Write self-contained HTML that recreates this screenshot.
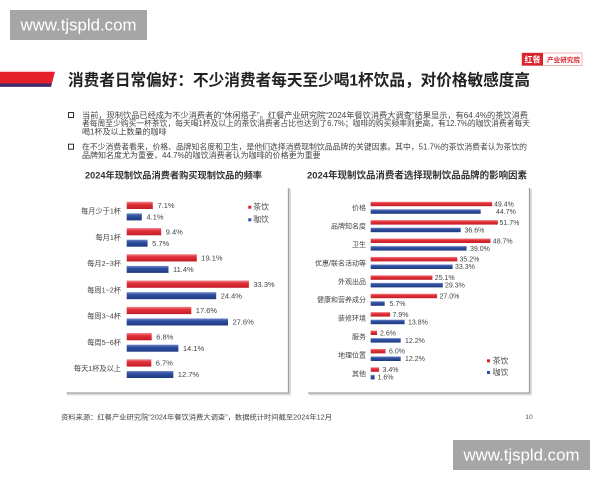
<!DOCTYPE html>
<html><head><meta charset="utf-8"><style>
html,body{margin:0;padding:0;background:#fff;}
svg{display:block;}
text{font-family:"Liberation Sans","Noto Sans CJK SC",sans-serif;}
</style></head><body>
<svg width="600" height="480" viewBox="0 0 600 480" xmlns="http://www.w3.org/2000/svg">
<defs>
<linearGradient id="rg" x1="0" y1="0" x2="0" y2="1">
<stop offset="0" stop-color="#f28a90"/><stop offset="0.35" stop-color="#e2323b"/><stop offset="1" stop-color="#c41d26"/>
</linearGradient>
<linearGradient id="bg" x1="0" y1="0" x2="0" y2="1">
<stop offset="0" stop-color="#7088c8"/><stop offset="0.35" stop-color="#2f4f9f"/><stop offset="1" stop-color="#1f3a82"/>
</linearGradient>
</defs>
<rect width="600" height="480" fill="#fff"/>

<!-- watermark boxes -->
<rect x="10" y="10" width="137" height="30" fill="#a6a6a6"/>
<text x="20.5" y="30.5" font-size="16.7" fill="#fff" textLength="116" lengthAdjust="spacingAndGlyphs">www.tjspld.com</text>
<rect x="453" y="440" width="137" height="30" fill="#a6a6a6"/>
<text x="463.5" y="460.5" font-size="16.7" fill="#fff" textLength="116" lengthAdjust="spacingAndGlyphs">www.tjspld.com</text>

<!-- logo -->
<rect x="522" y="53" width="60" height="12.5" fill="#fff" stroke="#f0a0a4" stroke-width="0.8"/>
<rect x="522" y="53" width="21" height="12.5" fill="#d9232d"/>
<text x="532.5" y="62.5" font-size="8" font-weight="bold" fill="#fff" text-anchor="middle">红餐</text>
<text x="547" y="62" font-size="6.3" fill="#d9232d" font-weight="bold" textLength="33" lengthAdjust="spacingAndGlyphs">产业研究院</text>

<!-- red stripe -->
<polygon points="0,71.7 55,71.7 51,86.7 0,86.7" fill="#e3202b"/>
<polygon points="0,83.5 51.9,83.5 51,86.7 0,86.7" fill="#3b2d72"/>

<!-- title -->
<text x="68" y="85.5" font-size="16" font-weight="bold" fill="#222" textLength="462" lengthAdjust="spacingAndGlyphs">消费者日常偏好：不少消费者每天至少喝1杯饮品，对价格敏感度高</text>

<!-- bullets -->
<rect x="68.5" y="112.5" width="5" height="5" fill="none" stroke="#333" stroke-width="1"/>
<text x="82" y="117.8" font-size="8" fill="#444" textLength="446" lengthAdjust="spacingAndGlyphs">当前，现制饮品已经成为不少消费者的“休闲搭子”。红餐产业研究院“2024年餐饮消费大调查”结果显示，有64.4%的茶饮消费</text>
<text x="82" y="126.2" font-size="8" fill="#444" textLength="448" lengthAdjust="spacingAndGlyphs">者每周至少购买一杯茶饮，每天喝1杯及以上的茶饮消费者占比也达到了6.7%；咖啡的购买频率则更高，有12.7%的咖饮消费者每天</text>
<text x="82" y="134.5" font-size="8" fill="#444">喝1杯及以上数量的咖啡</text>
<rect x="68.5" y="144.2" width="5" height="5" fill="none" stroke="#333" stroke-width="1"/>
<text x="82" y="149.5" font-size="8" fill="#444" textLength="445" lengthAdjust="spacingAndGlyphs">在不少消费者看来，价格、品牌知名度和卫生，是他们选择消费现制饮品品牌的关键因素。其中，51.7%的茶饮消费者认为茶饮的</text>
<text x="82" y="157.8" font-size="8" fill="#444">品牌知名度尤为重要，44.7%的咖饮消费者认为咖啡的价格更为重要</text>

<!-- chart frames -->
<g stroke="#dcdcdc" stroke-width="2" fill="none">
<polyline points="67,394.5 290,394.5 290,189"/>
<polyline points="309,394.5 531,394.5 531,189"/>
</g>
<g stroke="#a2a2a2" stroke-width="1.3" fill="none">
<polyline points="66.7,393 288.5,393 288.5,188"/>
<polyline points="308,393 529.5,393 529.5,188"/>
</g>

<!-- left chart -->
<text x="85" y="178.5" font-size="9.3" font-weight="bold" fill="#333" textLength="177" lengthAdjust="spacingAndGlyphs">2024年现制饮品消费者购买现制饮品的频率</text>
<g font-size="7.2" fill="#444" text-anchor="end">
<text x="121" y="213.5">每月少于1杯</text>
<text x="121" y="239.8">每月1杯</text>
<text x="121" y="266">每月2~3杯</text>
<text x="121" y="292.3">每周1~2杯</text>
<text x="121" y="318.6">每周3~4杯</text>
<text x="121" y="344.9">每周5~6杯</text>
<text x="121" y="371.1">每天1杯及以上</text>
</g>
<g fill="url(#rg)">
<rect x="126.7" y="201.7" width="26.1" height="7.3"/>
<rect x="126.7" y="228" width="34.5" height="7.3"/>
<rect x="126.7" y="254.2" width="70.1" height="7.3"/>
<rect x="126.7" y="280.5" width="122.2" height="7.3"/>
<rect x="126.7" y="306.8" width="64.6" height="7.3"/>
<rect x="126.7" y="333" width="25" height="7.3"/>
<rect x="126.7" y="359.3" width="24.6" height="7.3"/>
</g>
<g fill="url(#bg)">
<rect x="126.7" y="213.4" width="15.1" height="7"/>
<rect x="126.7" y="239.7" width="20.9" height="7"/>
<rect x="126.7" y="265.9" width="41.8" height="7"/>
<rect x="126.7" y="292.2" width="89.5" height="7"/>
<rect x="126.7" y="318.5" width="101.3" height="7"/>
<rect x="126.7" y="344.7" width="51.7" height="7"/>
<rect x="126.7" y="371" width="46.6" height="7"/>
</g>
<g font-size="7.5" fill="#444">
<text x="157.5" y="208">7.1%</text><text x="146.5" y="219.6">4.1%</text>
<text x="165.7" y="234.3">9.4%</text><text x="152.1" y="245.9">5.7%</text>
<text x="201.3" y="260.5">19.1%</text><text x="173" y="272.2">11.4%</text>
<text x="253.4" y="286.8">33.3%</text><text x="220.7" y="298.4">24.4%</text>
<text x="195.8" y="313.1">17.6%</text><text x="232.5" y="324.7">27.6%</text>
<text x="156.2" y="339.4">6.8%</text><text x="182.9" y="351">14.1%</text>
<text x="155.8" y="365.6">6.7%</text><text x="177.8" y="377.2">12.7%</text>
</g>
<rect x="248.3" y="205.7" width="3" height="3" fill="#d9232d"/>
<text x="253.3" y="209.5" font-size="7.8" fill="#444">茶饮</text>
<rect x="248.3" y="218.3" width="3" height="3" fill="#2f4f9f"/>
<text x="253.3" y="222.1" font-size="7.8" fill="#444">咖饮</text>

<!-- right chart -->
<text x="307" y="178.5" font-size="9.6" font-weight="bold" fill="#333" textLength="220" lengthAdjust="spacingAndGlyphs">2024年现制饮品消费者选择现制饮品品牌的影响因素</text>
<g font-size="7" fill="#444" text-anchor="end">
<text x="366" y="210.2">价格</text>
<text x="366" y="228.6">品牌知名度</text>
<text x="366" y="247">卫生</text>
<text x="366" y="265.4">优惠/联名活动等</text>
<text x="366" y="283.8">外观出品</text>
<text x="366" y="302.2">健康和营养成分</text>
<text x="366" y="320.6">装修环境</text>
<text x="366" y="339">服务</text>
<text x="366" y="357.4">地理位置</text>
<text x="366" y="375.8">其他</text>
</g>
<g fill="url(#rg)">
<rect x="370.7" y="201.7" width="121.5" height="4.5"/>
<rect x="370.7" y="220.1" width="127.2" height="4.5"/>
<rect x="370.7" y="238.5" width="119.8" height="4.5"/>
<rect x="370.7" y="256.9" width="86.6" height="4.5"/>
<rect x="370.7" y="275.3" width="61.7" height="4.5"/>
<rect x="370.7" y="293.7" width="66.4" height="4.5"/>
<rect x="370.7" y="312.1" width="19.4" height="4.5"/>
<rect x="370.7" y="330.5" width="6.4" height="4.5"/>
<rect x="370.7" y="348.9" width="14.8" height="4.5"/>
<rect x="370.7" y="367.3" width="8.4" height="4.5"/>
</g>
<g fill="url(#bg)">
<rect x="370.7" y="209.3" width="110" height="4.5"/>
<rect x="370.7" y="227.7" width="90" height="4.5"/>
<rect x="370.7" y="246.1" width="95.9" height="4.5"/>
<rect x="370.7" y="264.5" width="81.9" height="4.5"/>
<rect x="370.7" y="282.9" width="72.1" height="4.5"/>
<rect x="370.7" y="301.3" width="14" height="4.5"/>
<rect x="370.7" y="319.7" width="33.9" height="4.5"/>
<rect x="370.7" y="338.1" width="30" height="4.5"/>
<rect x="370.7" y="356.5" width="30" height="4.5"/>
<rect x="370.7" y="374.9" width="3.9" height="4.5"/>
</g>
<g font-size="7" fill="#444">
<text x="494" y="206.5">49.4%</text><text x="496" y="214">44.7%</text>
<text x="499.5" y="224.9">51.7%</text><text x="464.5" y="232.4">36.6%</text>
<text x="492.8" y="243.3">48.7%</text><text x="470" y="250.8">39.0%</text>
<text x="459.5" y="261.7">35.2%</text><text x="455" y="269.2">33.3%</text>
<text x="434.8" y="280.1">25.1%</text><text x="445" y="287.6">29.3%</text>
<text x="439.5" y="298.5">27.0%</text><text x="389.5" y="306">5.7%</text>
<text x="392.5" y="316.9">7.9%</text><text x="408" y="324.4">13.8%</text>
<text x="380" y="335.3">2.6%</text><text x="405" y="342.8">12.2%</text>
<text x="389" y="353.7">6.0%</text><text x="405" y="361.2">12.2%</text>
<text x="382.5" y="372.1">3.4%</text><text x="377.5" y="379.6">1.6%</text>
</g>
<rect x="487" y="359.3" width="3" height="3" fill="#d9232d"/>
<text x="492.7" y="363.4" font-size="7.8" fill="#444">茶饮</text>
<rect x="487" y="371" width="3" height="3" fill="#2f4f9f"/>
<text x="492.7" y="375" font-size="7.8" fill="#444">咖饮</text>

<!-- footer -->
<text x="61" y="419.5" font-size="7" fill="#444" textLength="271" lengthAdjust="spacingAndGlyphs">资料来源：红餐产业研究院“2024年餐饮消费大调查”，数据统计时间截至2024年12月</text>
<text x="529" y="419" font-size="6.5" fill="#555" text-anchor="middle">10</text>
</svg>
</body></html>
